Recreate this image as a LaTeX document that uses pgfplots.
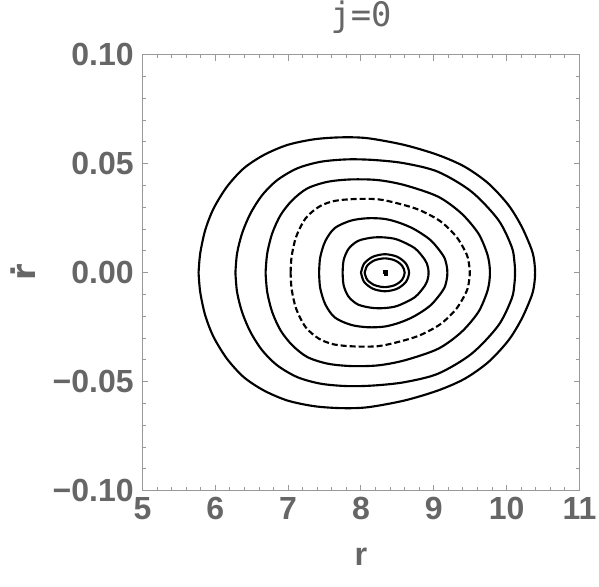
\documentclass[border=0pt]{standalone}
\usepackage{fontspec}
\setmainfont{Liberation Sans}
\newfontfamily\monofont{DejaVu Sans Mono}
\newfontfamily\dejavusans{DejaVu Sans}
\usepackage{pgfplots}
\pgfplotsset{compat=1.18}
\definecolor{LabelGray}{gray}{0.4}
\definecolor{FrameGray}{gray}{0.6}

\pgfplotsset{orbit/.style={black, line width=0.85pt, smooth, mark=none}}

\begin{document}
\begin{tikzpicture}
\begin{axis}[
  scale only axis,
  width=174.8pt, height=174.4pt,
  xmin=5, xmax=11, ymin=-0.1, ymax=0.1,
  xtick={5,6,7,8,9,10,11},
  xticklabels={5,6,7,8,9,10,11},
  ytick={-0.1,-0.05,0,0.05,0.1},
  yticklabels={−0.10,−0.05,0.00,0.05,0.10},
  minor x tick num=4, minor y tick num=4,
  tick align=inside,
  major tick length=2.4pt, minor tick length=1.4pt,
  axis line style={FrameGray, line width=0.5pt},
  tick style={FrameGray, line width=0.4pt},
  ticklabel style={font=\fontsize{12.8}{14}\selectfont\bfseries, text=LabelGray},
  xticklabel style={yshift=1pt},
  title={\monofont j=0},
  title style={font=\fontsize{13.5}{15}\selectfont, text=LabelGray, yshift=-1pt},
  xlabel={r},
  ylabel={\dejavusans\bfseries ṙ},
  label style={font=\fontsize{13}{15}\selectfont\bfseries, text=LabelGray},
  xlabel style={yshift=-4.5pt},
  clip=false,
]

% outermost orbit
\addplot[orbit] coordinates {
(5.770,0)(5.793,0.0089)(5.862,0.0196)(5.977,0.0295)(6.161,0.0395)(6.391,0.0479)
(6.666,0.054)(6.989,0.0586)(7.356,0.0612)(7.724,0.0621)(8.092,0.0617)(8.597,0.0586)
(9.058,0.054)(9.425,0.0486)(9.748,0.041)(10.023,0.0311)(10.207,0.0211)(10.345,0.0104)
(10.382,0.0045)(10.39,0)
(10.382,-0.0045)(10.345,-0.0104)(10.207,-0.0211)(10.023,-0.0311)(9.748,-0.041)(9.425,-0.0486)
(9.058,-0.054)(8.597,-0.0586)(8.092,-0.0617)(7.724,-0.0621)(7.356,-0.0612)
(6.989,-0.0586)(6.666,-0.054)(6.391,-0.0479)(6.161,-0.0395)(5.977,-0.0295)
(5.862,-0.0196)(5.793,-0.0089)(5.770,0)
};

\addplot[orbit] coordinates {
(6.276,0)(6.299,0.0089)(6.368,0.0181)(6.483,0.0272)(6.644,0.0356)(6.851,0.0425)
(7.127,0.0479)(7.448,0.0509)(7.817,0.052)(8.184,0.0517)(8.597,0.0502)(9.058,0.0463)
(9.517,0.0372)(9.886,0.0242)(10.069,0.0119)(10.106,0.0052)(10.115,0)
(10.106,-0.0052)(10.069,-0.0119)(9.886,-0.0242)(9.517,-0.0372)(9.058,-0.0463)(8.597,-0.0502)
(8.184,-0.0517)(7.817,-0.052)(7.448,-0.0509)(7.127,-0.0479)(6.851,-0.0425)
(6.644,-0.0356)(6.483,-0.0272)(6.368,-0.0181)(6.299,-0.0089)(6.276,0)
};

\addplot[orbit] coordinates {
(6.690,0)(6.713,0.0089)(6.782,0.0181)(6.897,0.0265)(7.058,0.0333)(7.265,0.0387)
(7.541,0.0417)(7.862,0.0428)(8.230,0.0425)(8.597,0.0402)(9.058,0.0349)(9.379,0.0272)
(9.610,0.0181)(9.725,0.0095)(9.762,0.0042)(9.770,0)
(9.762,-0.0042)(9.725,-0.0095)(9.610,-0.0181)(9.379,-0.0272)(9.058,-0.0349)(8.597,-0.0402)
(8.230,-0.0425)(7.862,-0.0428)(7.541,-0.0417)(7.265,-0.0387)(7.058,-0.0333)
(6.897,-0.0265)(6.782,-0.0181)(6.713,-0.0089)(6.690,0)
};

% dashed orbit
\addplot[orbit, dash pattern=on 2.4pt off 1.2pt] coordinates {
(7.034,0)(7.048,0.0075)(7.110,0.0165)(7.241,0.025)(7.425,0.0303)(7.632,0.0329)
(7.908,0.0338)(8.230,0.0337)(8.506,0.0318)(8.800,0.0288)(9.090,0.0236)(9.310,0.0165)
(9.450,0.0085)(9.485,0.0035)(9.494,0)
(9.485,-0.0035)(9.450,-0.0085)(9.310,-0.0165)(9.090,-0.0236)(8.800,-0.0288)(8.506,-0.0318)
(8.230,-0.0337)(7.908,-0.0338)(7.632,-0.0329)(7.425,-0.0303)(7.241,-0.025)
(7.110,-0.0165)(7.048,-0.0075)(7.034,0)
};

\addplot[orbit] coordinates {
(7.425,0)(7.440,0.0070)(7.510,0.0145)(7.640,0.0205)(7.862,0.0239)(8.092,0.025)
(8.321,0.0247)(8.520,0.0230)(8.730,0.0200)(8.960,0.0148)(9.130,0.0078)(9.175,0.0035)(9.186,0)
(9.175,-0.0035)(9.130,-0.0078)(8.960,-0.0148)(8.730,-0.0200)(8.520,-0.0230)(8.321,-0.0247)
(8.092,-0.025)(7.862,-0.0239)(7.640,-0.0205)(7.510,-0.0145)(7.440,-0.0070)(7.425,0)
};

\addplot[orbit] coordinates {
(7.748,0)(7.762,0.0058)(7.830,0.0110)(7.960,0.0146)(8.150,0.0161)(8.321,0.0162)
(8.500,0.0152)(8.740,0.0112)(8.880,0.0058)(8.918,0.0027)(8.928,0)
(8.918,-0.0027)(8.880,-0.0058)(8.740,-0.0112)(8.500,-0.0152)(8.321,-0.0162)(8.150,-0.0161)
(7.960,-0.0146)(7.830,-0.0110)(7.762,-0.0058)(7.748,0)
};

\addplot[orbit] coordinates {
(8.0,0)(8.044,0.00425)(8.165,0.00736)(8.33,0.0085)(8.495,0.00736)(8.616,0.00425)
(8.66,0)(8.616,-0.00425)(8.495,-0.00736)(8.33,-0.0085)(8.165,-0.00736)
(8.044,-0.00425)(8.0,0)
};

\addplot[orbit] coordinates {
(8.05,0)(8.087,0.0033)(8.188,0.0057)(8.325,0.0066)(8.463,0.0057)(8.563,0.0033)
(8.6,0)(8.563,-0.0033)(8.463,-0.0057)(8.325,-0.0066)(8.188,-0.0057)
(8.087,-0.0033)(8.05,0)
};

% centre
\addplot[orbit, sharp plot] coordinates {
(8.31,-0.0008)(8.35,-0.0008)(8.35,0.0008)(8.31,0.0008)(8.31,-0.0008)
};

\coordinate (bbsw) at (rel axis cs:-0.326,-0.2186);
\coordinate (bbne) at (rel axis cs:1.0446,1.1255);
\end{axis}
\pgfresetboundingbox
\path (bbsw) rectangle (bbne);
\end{tikzpicture}
\end{document}
